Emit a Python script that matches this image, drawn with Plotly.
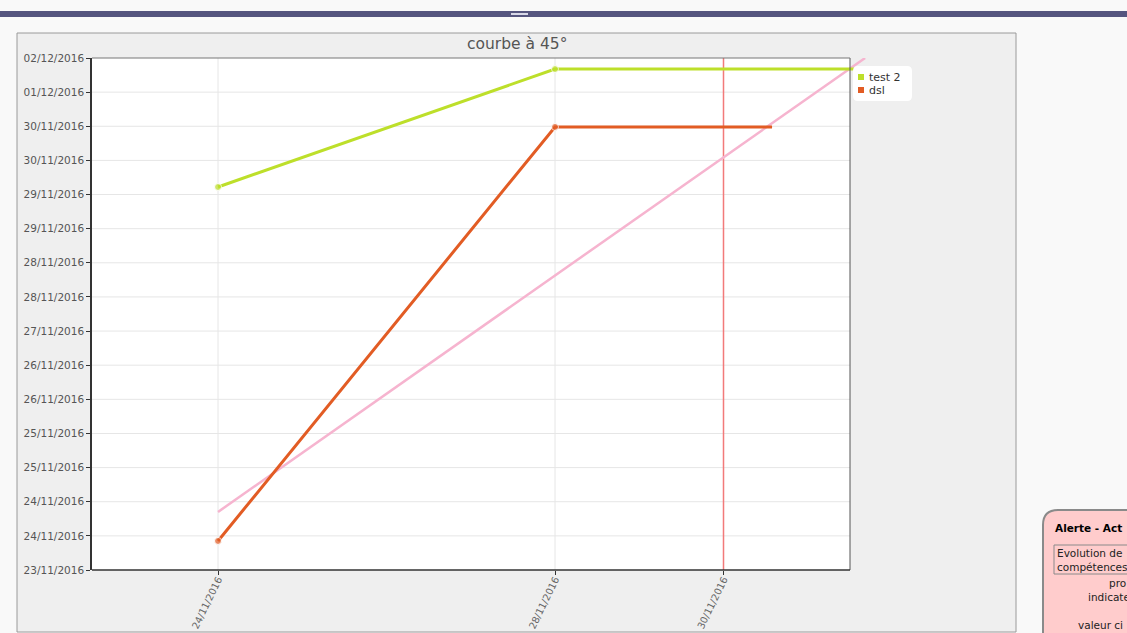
import plotly.graph_objects as go
import pandas as pd

# ---------------- data ----------------
line45_x = ["2016-11-24 00:00", "2016-12-01 16:20"]
line45_y = ["2016-11-24 00:30", "2016-12-02 00:00"]

test2_x = ["2016-11-24 00:00", "2016-11-28 00:00", "2016-12-01 14:00"]
test2_y = ["2016-11-29 17:35", "2016-12-01 19:20", "2016-12-01 19:20"]

dsl_x = ["2016-11-24 00:00", "2016-11-28 00:00", "2016-11-30 13:50"]
dsl_y = ["2016-11-23 12:15", "2016-11-30 18:55", "2016-11-30 18:55"]

marker_date = "2016-11-30"

x_tick_vals = ["2016-11-24", "2016-11-28", "2016-11-30"]
x_tick_text = ["24/11/2016", "28/11/2016", "30/11/2016"]
y_tick_text = ["23/11/2016", "24/11/2016", "24/11/2016", "25/11/2016", "25/11/2016",
               "26/11/2016", "26/11/2016", "27/11/2016", "28/11/2016", "28/11/2016",
               "29/11/2016", "29/11/2016", "30/11/2016", "30/11/2016", "01/12/2016",
               "02/12/2016"]
legend_names = ["test 2", "dsl"]
title_text = "courbe à 45°"
alert_title = "Alerte - Act"
alert_lines = ["Evolution de", "compétences", "pro", "indicate", "valeur ci"]

# ---------------- style ----------------
FONT = "DejaVu Sans"
GREEN = "#bddf2a"
ORANGE = "#e25c24"
PINK = "#f6b4cf"
RED = "#f27a7a"
GRID = "#e6e6e6"

W, H = 1127, 633
L, R, T, B = 92, 870, 58, 570      # axis domain in pixels
FRAME_R = 850                       # visible frame right edge


def px(x):
    return (x - L) / (R - L)


def py(y):
    return (B - y) / (B - T)


y_tick_vals = pd.date_range("2016-11-23 00:00", periods=len(y_tick_text), freq="864min")

fig = go.Figure()

fig.add_trace(go.Scatter(x=line45_x, y=line45_y, mode="lines",
                         line=dict(color=PINK, width=2.5), hoverinfo="skip"))
fig.add_trace(go.Scatter(x=dsl_x, y=dsl_y, mode="lines+markers", name=legend_names[1],
                         line=dict(color=ORANGE, width=3),
                         marker=dict(color=ORANGE, size=[7, 7, 0])))
fig.add_trace(go.Scatter(x=test2_x, y=test2_y, mode="lines+markers", name=legend_names[0],
                         line=dict(color=GREEN, width=3),
                         marker=dict(color=GREEN, size=[7, 7, 0])))

shapes = []
# top bar of page
shapes.append(dict(type="rect", xref="paper", yref="paper", x0=px(0), x1=px(W), y0=py(17), y1=py(11),
                   fillcolor="#55557f", line=dict(width=0), layer="below"))
shapes.append(dict(type="rect", xref="paper", yref="paper", x0=px(511), x1=px(528), y0=py(15), y1=py(13),
                   fillcolor="#d8d8e8", line=dict(width=0), layer="below"))
# chart container
shapes.append(dict(type="rect", xref="paper", yref="paper", x0=px(17), x1=px(1016), y0=py(632), y1=py(33),
                   fillcolor="#efefef", line=dict(color="#9a9a9a", width=1), layer="below"))
# plot area background
shapes.append(dict(type="rect", xref="paper", yref="paper", x0=px(L), x1=px(FRAME_R), y0=0, y1=1,
                   fillcolor="white", line=dict(width=0), layer="below"))
# horizontal grid lines
for tv in y_tick_vals[1:-1]:
    shapes.append(dict(type="line", xref="paper", yref="y", x0=0, x1=px(FRAME_R), y0=tv, y1=tv,
                       line=dict(color=GRID, width=1), layer="below"))
# vertical grid lines
for tv in x_tick_vals:
    shapes.append(dict(type="line", xref="x", yref="paper", x0=tv, x1=tv, y0=0, y1=1,
                       line=dict(color=GRID, width=1), layer="below"))
# vertical marker line
shapes.append(dict(type="line", xref="x", yref="paper", x0=marker_date, x1=marker_date, y0=0, y1=1,
                   line=dict(color=RED, width=1.5), layer="below"))
# frame
shapes.append(dict(type="line", xref="paper", yref="paper", x0=px(FRAME_R), x1=px(FRAME_R), y0=0, y1=1,
                   line=dict(color="#555555", width=1)))
shapes.append(dict(type="line", xref="paper", yref="paper", x0=0, x1=px(FRAME_R), y0=1, y1=1,
                   line=dict(color="#777777", width=1)))
shapes.append(dict(type="line", xref="paper", yref="paper", x0=0, x1=px(FRAME_R), y0=0, y1=0,
                   line=dict(color="#333333", width=1.5)))


def rounded_path(x0, y0, x1, y1, r):
    pts = [
        f"M {px(x0)},{py(y1)}",
        f"L {px(x0)},{py(y0 + r)}",
        f"Q {px(x0)},{py(y0)} {px(x0 + r)},{py(y0)}",
        f"L {px(x1 - r)},{py(y0)}",
        f"Q {px(x1)},{py(y0)} {px(x1)},{py(y0 + r)}",
        f"L {px(x1)},{py(y1 - r)}",
        f"Q {px(x1)},{py(y1)} {px(x1 - r)},{py(y1)}",
        f"L {px(x0 + r)},{py(y1)}",
        f"Q {px(x0)},{py(y1)} {px(x0)},{py(y1 - r)}",
        "Z",
    ]
    return " ".join(pts)


# legend box
shapes.append(dict(type="path", xref="paper", yref="paper", path=rounded_path(853, 66, 912, 101, 5),
                   fillcolor="white", line=dict(width=0)))
shapes.append(dict(type="rect", xref="paper", yref="paper", x0=px(858), x1=px(864), y0=py(80), y1=py(74),
                   fillcolor=GREEN, line=dict(width=0)))
shapes.append(dict(type="rect", xref="paper", yref="paper", x0=px(858), x1=px(864), y0=py(93), y1=py(87),
                   fillcolor=ORANGE, line=dict(width=0)))
# alert box (page element)
shapes.append(dict(type="path", xref="paper", yref="paper",
                   path=(f"M {px(1043)},{py(660)} L {px(1043)},{py(525)} "
                         f"Q {px(1043)},{py(510)} {px(1058)},{py(510)} "
                         f"L {px(1160)},{py(510)} L {px(1160)},{py(660)} Z"),
                   fillcolor="#ffcccc", line=dict(color="#8a8a8a", width=2)))
shapes.append(dict(type="rect", xref="paper", yref="paper", x0=px(1054), x1=px(1160), y0=py(574), y1=py(545),
                   fillcolor="rgba(0,0,0,0)", line=dict(color="#8a8a8a", width=1)))


def ann(text, x, y, size, color, anchor="left"):
    return dict(text=text, x=px(x), y=py(y), xref="paper", yref="paper", showarrow=False,
                xanchor=anchor, yanchor="middle", font=dict(family=FONT, size=size, color=color))


annotations = [
    ann(title_text, 517, 44, 15.5, "#555555", "center"),
    ann(legend_names[0], 867, 77, 11, "#333333"),
    ann(legend_names[1], 867, 90, 11, "#333333"),
    ann("<b>" + alert_title + "</b>", 1053, 528, 10.5, "#000000"),
    ann(alert_lines[0], 1055, 553, 10.5, "#222222"),
    ann(alert_lines[1], 1055, 567, 10.5, "#222222"),
    ann(alert_lines[2], 1107, 583, 10.5, "#222222"),
    ann(alert_lines[3], 1086, 597, 10.5, "#222222"),
    ann(alert_lines[4], 1076, 625, 10.5, "#222222"),
]

fig.update_layout(
    width=W, height=H, autosize=False,
    margin=dict(l=L, r=W - R, t=T, b=H - B, pad=0, autoexpand=False),
    paper_bgcolor="#f9f9f9",
    plot_bgcolor="rgba(0,0,0,0)",
    showlegend=False,
    shapes=shapes,
    annotations=annotations,
    font=dict(family=FONT),
    xaxis=dict(
        type="date", automargin=False,
        range=["2016-11-22 12:06", "2016-12-01 17:44"],
        tickmode="array", tickvals=x_tick_vals, ticktext=x_tick_text,
        tickangle=-64, tickfont=dict(family=FONT, size=9.8, color="#666666"),
        ticks="outside", ticklen=4, tickcolor="#333333", ticklabelstandoff=-5,
        showgrid=False, zeroline=False, showline=False,
    ),
    yaxis=dict(
        type="date", automargin=False,
        range=["2016-11-23 00:00", "2016-12-02 00:00"],
        tickmode="array", tickvals=y_tick_vals, ticktext=y_tick_text,
        tickfont=dict(family=FONT, size=10.5, color="#555555"),
        ticks="outside", ticklen=4, tickcolor="#333333",
        showgrid=False, zeroline=False,
        showline=True, linecolor="#333333", linewidth=1.5,
    ),
)

fig.write_html("out.html", config={"displayModeBar": False},
               post_script="document.body.style.margin='0';document.body.style.overflow='hidden';")
